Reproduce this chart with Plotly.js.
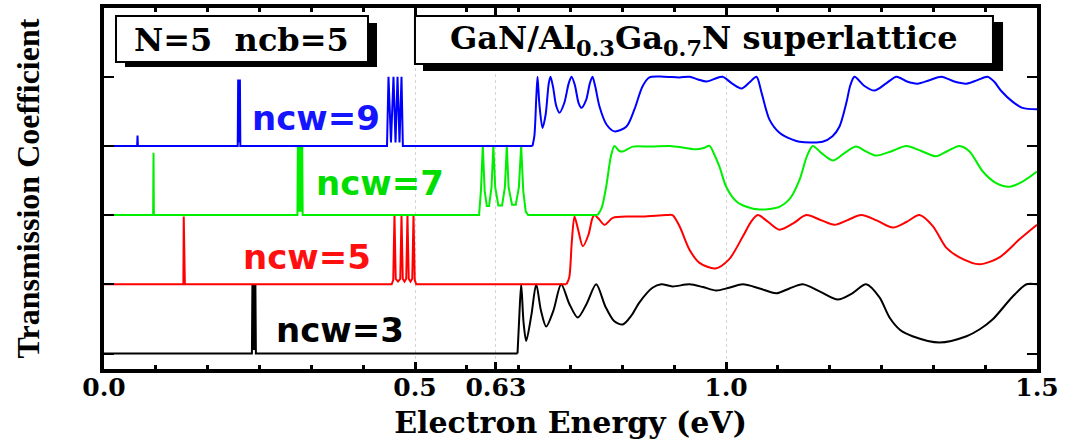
<!DOCTYPE html>
<html><head><meta charset="utf-8">
<script src="https://cdn.plot.ly/plotly-3.0.1.min.js"></script>
<style>html,body{margin:0;padding:0;background:#fff}#chart{width:1069px;height:440px}</style>
</head><body><div id="chart"></div>
<script>
// ---- data: transmission coefficient T(E) for each ncw, energies in eV ----
const ncw3LowE = [0, 0.2378, 0.2386, 0.2394, 0.2402, 0.2410, 0.2418, 0.2426, 0.2434, 0.2442, 0.6648];
const ncw3LowT = [0, 0, 1, 0.05, 1, 0.05, 1, 0.05, 1, 0, 0];
const ncw3E = [0.6648, 0.6675, 0.6707, 0.6745, 0.6788, 0.6870, 0.6949, 0.7025, 0.7109, 0.7225,
  0.7350, 0.7480, 0.7617, 0.7760, 0.7913, 0.8060, 0.8200, 0.8341, 0.8480, 0.8609,
  0.8818, 0.8958, 0.9140, 0.9413, 0.9630, 0.9842, 1.0050, 1.0270, 1.0540, 1.0807,
  1.1020, 1.1235, 1.1520, 1.1797, 1.2030, 1.2254, 1.2468, 1.2629, 1.2800, 1.2998,
  1.3432, 1.3867, 1.4080, 1.4285, 1.4606, 1.4831, 1.5000];
const ncw3T = [0, 0.5, 1.0, 0.45, 0.18, 0.55, 1.0, 0.62, 0.39, 0.62,
  1.0, 0.72, 0.52, 0.72, 1.0, 0.68, 0.47, 0.42, 0.55, 0.74,
  0.95, 1.0, 0.97, 1.0, 0.96, 0.91, 0.95, 1.0, 0.94, 0.87,
  0.94, 1.0, 0.89, 0.78, 0.87, 1.0, 0.81, 0.52, 0.34, 0.25,
  0.16, 0.25, 0.35, 0.49, 0.82, 1.0, 1.0];

const ncw5LowE = [0, 0.1276, 0.1282, 0.1288, 0.1294, 0.1300, 0.4625, 0.4650, 0.4670, 0.4690,
  0.4727, 0.4763, 0.4783, 0.4803, 0.4831, 0.4859, 0.4879, 0.4899, 0.4928, 0.4956,
  0.4976, 0.4996, 0.5020, 0.7436];
const ncw5LowT = [0, 0, 0.98, 0.05, 0.98, 0, 0, 0.06, 1, 0.08,
  0.04, 0.08, 1, 0.08, 0.04, 0.08, 1, 0.08, 0.04, 0.08,
  1, 0.06, 0, 0];
const ncw5E = [0.7436, 0.7480, 0.7520, 0.7564, 0.7620, 0.7698, 0.7790, 0.7850, 0.7886, 0.7950,
  0.8047, 0.8180, 0.8449, 0.8662, 0.9039, 0.9140, 0.9253, 0.9413, 0.9574, 0.9830,
  1.0049, 1.0270, 1.0400, 1.0511, 1.0680, 1.0860, 1.1080, 1.1289, 1.1520, 1.1744,
  1.1960, 1.2174, 1.2430, 1.2682, 1.2900, 1.3111, 1.3325, 1.3540, 1.3754, 1.4076,
  1.4397, 1.4719, 1.5000];
const ncw5T = [0, 0.1, 0.6, 0.98, 0.8, 0.55, 0.72, 0.95, 1.0, 0.95,
  0.86, 0.96, 0.98, 0.98, 1.0, 1.0, 0.84, 0.5, 0.31, 0.23,
  0.36, 0.69, 0.9, 1.0, 0.9, 0.79, 0.88, 1.0, 0.93, 0.86,
  0.93, 1.0, 0.92, 0.82, 0.9, 1.0, 0.84, 0.53, 0.39, 0.29,
  0.39, 0.65, 0.86];

const ncw7LowE = [0, 0.0790, 0.0796, 0.0802, 0.3110, 0.3117, 0.3124, 0.3131, 0.3138, 0.3145,
  0.3152, 0.3159, 0.3166, 0.3173, 0.3180, 0.3187, 0.3194, 0.6030, 0.6060, 0.6090,
  0.6120, 0.6155, 0.6190, 0.6230, 0.6260, 0.6290, 0.6340, 0.6400, 0.6445, 0.6476,
  0.6505, 0.6560, 0.6620, 0.6670, 0.6707, 0.6740, 0.6780, 0.6820, 0.7934];
const ncw7LowT = [0, 0, 0.9, 0, 0, 1, 0.05, 1, 0.05, 1,
  0.05, 1, 0.05, 1, 0.05, 1, 0, 0, 0.35, 1,
  0.35, 0.13, 0.13, 0.4, 1, 0.4, 0.14, 0.14, 0.4, 1,
  0.4, 0.15, 0.15, 0.4, 1, 0.35, 0.05, 0, 0];
const ncw7E = [0.7934, 0.8000, 0.8074, 0.8150, 0.8207, 0.8280, 0.8341, 0.8502, 0.8800, 0.9100,
  0.9350, 0.9521, 0.9640, 0.9735, 0.9810, 0.9895, 1.0003, 1.0164, 1.0330, 1.0539,
  1.0860, 1.1021, 1.1182, 1.1300, 1.1395, 1.1530, 1.1717, 1.1910, 1.2093, 1.2250,
  1.2415, 1.2650, 1.2897, 1.3130, 1.3379, 1.3570, 1.3754, 1.3915, 1.4129, 1.4330,
  1.4558, 1.4760, 1.5000];
const ncw7T = [0, 0.1, 0.41, 0.85, 1.0, 0.93, 0.92, 0.99, 0.99, 1.0,
  0.97, 0.95, 0.97, 1.0, 0.88, 0.70, 0.41, 0.2, 0.12, 0.08,
  0.12, 0.23, 0.51, 0.85, 1.0, 0.9, 0.79, 0.9, 0.99, 0.92,
  0.86, 0.92, 1.0, 0.93, 0.85, 0.93, 1.0, 0.92, 0.63, 0.47,
  0.41, 0.48, 0.63];

const ncw9LowE = [0, 0.0533, 0.0539, 0.0545, 0.2150, 0.2157, 0.2164, 0.2171, 0.2178, 0.2185,
  0.2192, 0.4550, 0.4574, 0.4614, 0.4654, 0.4687, 0.4719, 0.4751, 0.4783, 0.4805,
  0.6889];
const ncw9LowT = [0, 0, 0.15, 0, 0, 0.96, 0.05, 0.96, 0.05, 0.96,
  0, 0, 1, 0.05, 1, 0.05, 1, 0.05, 1, 0,
  0];
const ncw9E = [0.6889, 0.6920, 0.6950, 0.6970, 0.7000, 0.7050, 0.7100, 0.7150, 0.7178, 0.7220,
  0.7270, 0.7323, 0.7400, 0.7470, 0.7516, 0.7570, 0.7630, 0.7677, 0.7750, 0.7810,
  0.7853, 0.7900, 0.7966, 0.8079, 0.8207, 0.8400, 0.8529, 0.8657, 0.8770, 0.9000,
  0.9250, 0.9413, 0.9550, 0.9686, 0.9820, 0.9944, 1.0100, 1.0249, 1.0380, 1.0490,
  1.0571, 1.0699, 1.0860, 1.1069, 1.1182, 1.1552, 1.1712, 1.1825, 1.1937, 1.2000,
  1.2066, 1.2220, 1.2387, 1.2570, 1.2741, 1.2910, 1.3079, 1.3270, 1.3464, 1.3670,
  1.3867, 1.4040, 1.4204, 1.4310, 1.4429, 1.4606, 1.4767, 1.5000];
const ncw9T = [0, 0.15, 0.7, 1.0, 0.6, 0.26, 0.45, 0.9, 1.0, 0.85,
  0.58, 0.48, 0.62, 0.9, 1.0, 0.88, 0.62, 0.55, 0.66, 0.9,
  1.0, 0.85, 0.57, 0.31, 0.21, 0.28, 0.53, 0.86, 0.99, 1.0,
  0.99, 1.0, 0.96, 0.93, 0.97, 1.0, 0.9, 0.83, 0.92, 1.0,
  0.77, 0.38, 0.19, 0.09, 0.06, 0.06, 0.14, 0.28, 0.63, 0.88,
  1.0, 0.87, 0.8, 0.9, 1.0, 0.93, 0.9, 0.95, 1.0, 0.93,
  0.9, 0.95, 1.0, 0.93, 0.79, 0.64, 0.55, 0.53];

const seriesLabels = ['ncw=3', 'ncw=5', 'ncw=7', 'ncw=9'];
const seriesOffsets = [0, 1, 2, 3];
const xTickVals = [0, 0.5, 0.63, 1.0, 1.5];
const xTickText = ['0.0', '0.5', '0.63', '1.0', '1.5'];
const yTickVals = [0, 1, 2, 3, 4];

// ---- styling ----
const lineColors = ['#000000', '#ff0000', '#00ee00', '#0000ff'];
const labelColors = ['#000000', '#ff1010', '#00dd00', '#1414ff'];
const lowEs = [ncw3LowE, ncw5LowE, ncw7LowE, ncw9LowE];
const lowTs = [ncw3LowT, ncw5LowT, ncw7LowT, ncw9LowT];
const contEs = [ncw3E, ncw5E, ncw7E, ncw9E];
const contTs = [ncw3T, ncw5T, ncw7T, ncw9T];

const traces = [];
for (let i = 0; i < 4; i++) {
  traces.push({x: lowEs[i], y: lowTs[i].map(t => t + seriesOffsets[i]), type: 'scatter', mode: 'lines',
    name: seriesLabels[i], line: {color: lineColors[i], width: 2, shape: 'linear'}, hoverinfo: 'skip', showlegend: false});
  traces.push({x: contEs[i], y: contTs[i].map(t => t + seriesOffsets[i]), type: 'scatter', mode: 'lines',
    name: seriesLabels[i], line: {color: lineColors[i], width: 2, shape: 'spline', smoothing: 0.8}, hoverinfo: 'skip', showlegend: false});
}

const labelPos = [[0.380, 0.34], [0.3256, 1.395], [0.443, 2.464], [0.3405, 3.403]];
const annotations = seriesLabels.map((s, i) => ({
  x: labelPos[i][0], y: labelPos[i][1], xref: 'x', yref: 'y', text: s, showarrow: false,
  font: {family: 'DejaVu Sans', size: 34, weight: 700, color: labelColors[i]}, xanchor: 'center', yanchor: 'middle'
}));
annotations.push({x: 0.1479, y: 0.9114, xref: 'paper', yref: 'paper', showarrow: false,
  text: 'N=5 \u00a0ncb=5', font: {family: 'DejaVu Serif', size: 32, weight: 700, color: '#000'}, xanchor: 'center', yanchor: 'middle'});
annotations.push({x: 0.6431, y: 0.9114, xref: 'paper', yref: 'paper', showarrow: false,
  text: 'GaN/Al<sub>0.3</sub>Ga<sub>0.7</sub>N superlattice', font: {family: 'DejaVu Serif', size: 32, weight: 700, color: '#000'}, xanchor: 'center', yanchor: 'middle'});

const shapes = [
  {type: 'rect', xref: 'paper', yref: 'paper', x0: 0.0225, x1: 0.2926, y0: 0.8366, y1: 0.9584, fillcolor: '#000', line: {width: 0}, layer: 'above'},
  {type: 'rect', xref: 'paper', yref: 'paper', x0: 0.01286, x1: 0.28296, y0: 0.8504, y1: 0.9778, fillcolor: '#fff', line: {width: 2, color: '#000'}, layer: 'above'},
  {type: 'rect', xref: 'paper', yref: 'paper', x0: 0.3419, x1: 0.9636, y0: 0.8255, y1: 0.9612, fillcolor: '#000', line: {width: 0}, layer: 'above'},
  {type: 'rect', xref: 'paper', yref: 'paper', x0: 0.3333, x1: 0.9528, y0: 0.8449, y1: 0.9778, fillcolor: '#fff', line: {width: 2, color: '#000'}, layer: 'above'}
];

const layout = {
  width: 1069, height: 440,
  margin: {l: 104, r: 32, t: 8, b: 71},
  paper_bgcolor: '#fff', plot_bgcolor: '#fff',
  xaxis: {
    range: [0, 1.5], tickmode: 'array', tickvals: xTickVals, ticktext: xTickText,
    ticks: 'inside', ticklen: 7, tickwidth: 3, tickcolor: '#000',
    showline: true, linewidth: 4, linecolor: '#000', mirror: 'allticks',
    showgrid: true, gridcolor: '#d4d4d4', griddash: 'dot', gridwidth: 1, zeroline: false,
    tickfont: {family: 'DejaVu Serif', size: 25, weight: 700, color: '#000'},
    ticklabelstandoff: -7,
    minor: {tickmode: 'linear', tick0: 0, dtick: 1 / 12, ticks: 'inside', ticklen: 4, tickwidth: 3, tickcolor: '#000', showgrid: false},
    title: {text: 'Electron Energy (eV)', font: {family: 'DejaVu Serif', size: 30, weight: 700, color: '#000'}, standoff: 12},
    fixedrange: true
  },
  yaxis: {
    range: [-0.224, 4.993], tickmode: 'array', tickvals: yTickVals, showticklabels: false,
    ticks: 'inside', ticklen: 10, tickwidth: 2, tickcolor: '#000',
    showline: true, linewidth: 4, linecolor: '#000', mirror: 'allticks',
    showgrid: false, zeroline: false,
    title: {text: 'Transmission Coefficient', font: {family: 'Liberation Serif', size: 32, weight: 700, color: '#000'}, standoff: 52},
    fixedrange: true
  },
  shapes: shapes,
  annotations: annotations,
  showlegend: false
};

Plotly.newPlot('chart', traces, layout, {displayModeBar: false, staticPlot: true});
</script>
</body></html>
